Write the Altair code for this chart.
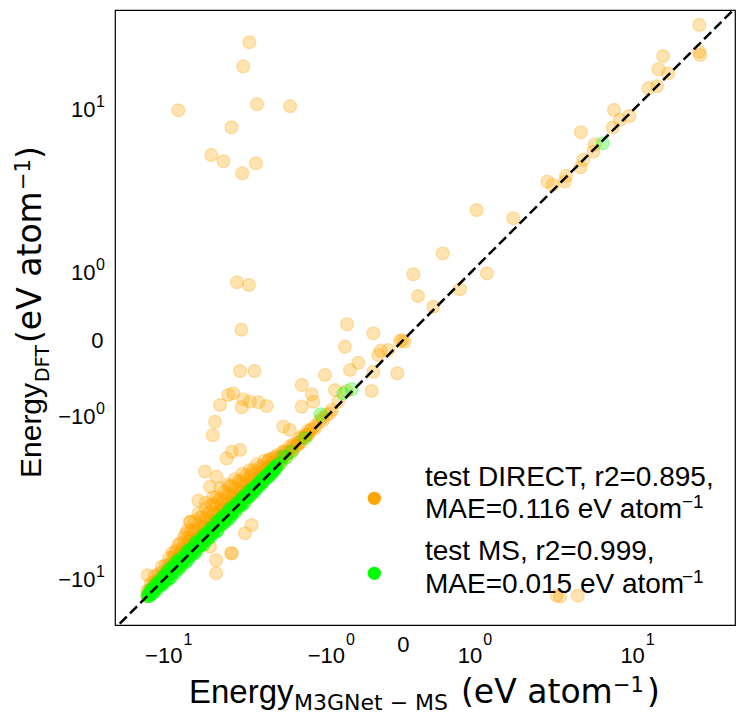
import altair as alt
import pandas as pd

# ---------------- data ----------------
# test DIRECT: isolated points (predicted, DFT) in eV/atom
direct_a_pred = [-3.64, -3.95, -8.89, -3.28, -2.03, -4.61, -5.95, -5.11, -4.00, -3.33,
                 -4.29, -3.66, -4.05, -0.706, 0.096, 0.145, -0.322]
direct_a_dft = [20.7, 15.7, 9.41, 10.1, 9.86, 7.67, 5.45, 5.03, 4.31, 4.90,
                0.73, 0.685, 0.099, 0.155, 0.873, 0.513, 0.063]

direct_b_pred = [-0.741, -0.03, 0.01, -0.01, -0.232, -0.148, -0.261, -0.528, -0.657, -0.322,
                 -0.056, -4.12, -3.40, -1.124, -1.69, -0.343, -0.922, -0.711, -1.431, -4.50,
                 -4.80, -3.95, -3.61, -3.22, -2.87, -5.33, -4.03, -1.69, -1.39, -5.68,
                 -5.84, -2.25, -2.04, -4.12, -4.59, -4.90, -6.43, -5.56, -6.04, -6.98,
                 -7.73, -7.70, -3.53, -3.86, -4.59, -4.62, -5.60, -5.60, -12.75, -6.04]
direct_b_dft = [-0.063, -0.01, -0.015, 0.0, -0.103, -0.096, -0.148, -0.234, -0.322, -0.344,
                -0.364, -0.335, -0.335, -0.387, -0.528, -0.62, -0.604, -0.62, -0.673, -0.657,
                -0.685, -0.758, -0.80, -0.81, -0.878, -0.86, -0.90, -0.89, -0.80, -1.20,
                -1.52, -1.31, -1.39, -1.93, -1.99, -2.20, -2.67, -2.87, -3.30, -3.98,
                -5.22, -5.25, -5.45, -6.04, -7.73, -7.70, -8.38, -9.81, -10.02, -7.12]

direct_c_pred = [20.3, 20.3, 20.5, 13.4, 12.7, 14.2, 12.5, 11.3, 7.48, 9.0,
                 8.05, 7.37, 4.96, 5.92, 5.80, 5.11, 4.94, 4.09, 4.03, 3.18,
                 3.42, 1.02, 1.93, 0.447, 1.24, 0.713, 0.322,
                 3.61, 3.78, 4.76,
                 -1.80, -1.55, -1.36, -1.19, -0.98, -0.86]
direct_c_dft = [25.2, 18.6, 17.9, 17.7, 15.2, 14.5, 12.5, 12.2, 9.44, 8.79,
                8.38, 7.63, 7.21, 6.22, 5.68, 5.11, 4.66, 4.16, 3.86, 3.86,
                3.69, 2.61, 2.31, 1.31, 0.89, 0.615, 0.364,
                -12.75, -12.9, -12.75,
                -1.78, -1.50, -1.30, -1.12, -0.95, -0.80]

# test DIRECT: dense band along the diagonal
direct_band_pred = [
    -12.82, -12.82, -12.29, -12.29, -11.77, -11.77, -11.77, -11.28, -11.28,
    -10.80, -10.80, -10.80, -10.35, -10.35, -9.91, -9.91, -9.91, -9.49, -9.49, -9.49,
    -9.08, -9.08, -8.69, -8.69, -8.69, -8.32, -8.32, -8.32, -7.96, -7.96, -7.96,
    -7.62, -7.62, -7.62, -7.29, -7.29, -7.29, -6.97, -6.97, -6.97, -6.97,
    -6.66, -6.66, -6.66, -6.37, -6.37, -6.37, -6.37, -6.08, -6.08, -6.08,
    -5.81, -5.81, -5.81, -5.81, -5.55, -5.55, -5.55, -5.55, -5.30, -5.30, -5.30, -5.30,
    -5.06, -5.06, -5.06, -4.83, -4.83, -4.83, -4.83, -4.61, -4.61, -4.61,
    -4.40, -4.40, -4.40, -4.40, -4.19, -4.19, -4.19, -3.99, -3.99, -3.99,
    -3.81, -3.81, -3.81, -3.62, -3.62, -3.62, -3.45, -3.45, -3.45, -3.28, -3.28, -3.28,
    -3.12, -3.12, -2.97, -2.97, -2.97, -2.82, -2.82, -2.68, -2.68, -2.68,
    -2.54, -2.54, -2.40, -2.40, -2.28, -2.28, -2.16, -2.16, -2.04, -2.04,
    -1.93, -1.93, -1.82, -1.72, -1.72, -1.62, -1.52, -1.52, -1.43, -1.34,
    -1.25, -1.17, -1.09, -1.02]
direct_band_dft = [
    -12.82, -12.03, -12.03, -11.04, -11.77, -10.80, -10.13, -10.80, -9.91,
    -10.57, -9.70, -9.08, -9.70, -8.89, -9.91, -8.89, -8.14, -9.08, -8.14, -7.62,
    -8.32, -7.45, -8.50, -7.62, -6.81, -7.79, -6.97, -6.37, -7.13, -6.37, -5.81,
    -7.29, -6.51, -5.81, -6.66, -5.95, -5.18, -6.81, -6.08, -5.43, -4.72,
    -6.22, -5.55, -4.94, -5.68, -5.06, -4.40, -4.09, -5.81, -5.18, -4.61,
    -5.30, -4.72, -4.19, -3.81, -5.43, -4.83, -4.29, -3.81, -4.94, -4.40, -3.90, -3.37,
    -4.50, -3.99, -3.54, -4.61, -4.09, -3.62, -3.20, -4.19, -3.71, -3.28,
    -4.29, -3.81, -3.37, -2.97, -3.90, -3.45, -3.05, -3.54, -3.12, -2.75,
    -3.62, -3.20, -2.82, -3.28, -2.89, -2.61, -3.37, -2.97, -2.61, -3.05, -2.68, -2.40,
    -2.75, -2.47, -2.82, -2.54, -2.28, -2.54, -2.28, -2.61, -2.34, -2.22,
    -2.34, -2.16, -2.40, -2.16, -2.16, -1.98, -2.16, -1.98, -1.98, -1.82,
    -1.93, -1.77, -1.72, -1.72, -1.57, -1.57, -1.52, -1.40, -1.38, -1.34,
    -1.19, -1.17, -1.05, -1.02]

direct_core_pred = [
    -12.55, -12.03, -11.52, -11.04, -10.57, -10.13, -9.70, -9.28, -8.89, -8.50,
    -8.14, -7.79, -7.45, -7.13, -6.81, -6.51, -6.22, -5.95, -5.68, -5.43,
    -5.18, -4.94, -4.72, -4.50, -4.29, -4.09, -3.90, -3.71, -3.54, -3.37,
    -3.20, -3.05, -2.89, -2.75, -2.61, -2.47, -2.34, -2.22, -2.10, -1.98,
    -1.87, -1.77, -1.66, -1.57, -1.47]
direct_core_dft = [
    -12.03, -11.28, -11.04, -10.13, -10.13, -9.08, -9.08, -8.14, -8.32, -7.29,
    -7.45, -6.51, -6.66, -5.81, -6.22, -5.55, -5.81, -5.18, -5.30, -4.61,
    -4.72, -4.29, -4.40, -3.81, -3.90, -3.54, -3.62, -3.20, -3.28, -2.97,
    -3.05, -2.75, -2.75, -2.54, -2.47, -2.34, -2.28, -2.10, -2.04, -1.87,
    -1.82, -1.72, -1.57, -1.52, -1.43]

direct_mid_pred = [
    -9.28, -8.89, -8.50, -8.14, -7.79, -7.45, -7.13, -6.81, -6.51, -6.22,
    -5.95, -5.68, -5.43, -5.18, -4.94, -4.72, -4.50, -4.29, -4.09, -3.90,
    -3.71, -3.54, -3.37, -3.20, -3.05, -2.89, -2.75, -2.61, -2.47, -2.34, -2.22]
direct_mid_dft = [
    -7.79, -6.97, -7.62, -6.08, -6.66, -5.81, -6.51, -4.94, -5.68, -4.83,
    -4.19, -4.72, -3.99, -4.50, -3.81, -3.28, -3.62, -3.81, -3.05, -3.20,
    -3.37, -2.75, -2.82, -2.97, -2.54, -2.54, -2.22, -2.34, -2.10, -2.16, -1.98]

# test MS
ms_pred = [
    -12.82, -12.55, -12.29, -12.03, -11.77, -11.52, -11.28, -11.04, -10.80, -10.57,
    -10.35, -10.13, -9.91, -9.70, -9.49, -9.28, -9.08, -8.89, -8.69, -8.50,
    -8.32, -8.14, -7.96, -7.79, -7.62, -7.45, -7.29, -7.13, -6.97, -6.81,
    -6.66, -6.51, -6.37, -6.22, -6.08, -5.95, -5.81, -5.68, -5.55, -5.43,
    -5.30, -5.18, -5.06, -4.94, -4.83, -4.72, -4.61, -4.50, -4.40, -4.29,
    -4.19, -4.09, -3.99, -3.90, -3.81, -3.71, -3.62, -3.54, -3.45, -3.37,
    -3.28, -3.20, -3.12, -3.05, -2.97, -2.89, -2.82, -2.75, -2.68, -2.61,
    -2.54, -2.47, -2.34, -2.16, -2.25, -1.98, -1.60, -1.22, -0.77, -0.63, 6.52]
ms_dft = [
    -12.82, -12.80, -12.04, -12.39, -11.65, -11.75, -10.94, -11.15, -11.12, -10.36,
    -10.76, -9.62, -10.01, -10.28, -9.21, -9.47, -8.54, -9.33, -8.60, -8.76,
    -7.99, -8.63, -7.96, -7.40, -7.92, -7.30, -7.65, -6.70, -7.11, -7.01,
    -6.46, -6.90, -6.12, -6.28, -6.38, -5.65, -5.98, -5.62, -5.88, -5.27,
    -5.41, -4.87, -5.26, -4.94, -5.07, -4.53, -4.75, -4.41, -4.66, -4.08,
    -4.23, -4.25, -3.87, -4.10, -3.77, -3.78, -3.48, -3.65, -3.45, -3.50,
    -3.35, -3.14, -3.21, -3.02, -3.03, -2.83, -2.85, -2.83, -2.65, -2.66,
    -2.54, -2.42, -2.36, -2.18, -2.14, -1.99, -1.60, -1.04, -0.66, -0.59, 6.30]

ms_b_pred = [
    -12.68, -12.42, -12.16, -11.90, -11.64, -11.40, -11.16, -10.92, -10.68, -10.46,
    -10.24, -10.02, -9.80, -9.60, -9.38, -9.18, -8.98, -8.79, -8.60, -8.41,
    -8.23, -8.05, -7.88, -7.70, -7.53, -7.37, -7.21, -7.05, -6.89, -6.73,
    -6.58, -6.44, -6.29, -6.15, -6.01, -5.88, -5.74, -5.61, -5.49, -5.36,
    -5.24, -5.12, -5.00, -4.88, -4.77, -4.66, -4.55, -4.45, -4.34, -4.24,
    -4.14, -4.04, -3.94, -3.85, -3.76, -3.66, -3.58, -3.49, -3.41, -3.32,
    -3.24, -3.16, -3.08, -3.01, -2.93, -2.85, -2.78, -2.71, -2.64, -2.57, -2.50]
ms_b_dft = [
    -12.55, -12.79, -11.80, -12.14, -12.11, -11.17, -11.27, -10.48, -11.21, -10.15,
    -10.55, -9.52, -10.39, -9.41, -9.76, -8.63, -9.16, -9.23, -8.26, -8.49,
    -7.98, -8.53, -7.49, -7.93, -7.45, -7.74, -6.78, -7.33, -7.03, -6.46,
    -6.97, -6.31, -5.98, -6.33, -6.31, -5.70, -5.80, -5.95, -5.16, -5.47,
    -5.45, -4.92, -5.25, -4.83, -4.53, -4.94, -4.41, -4.54, -4.51, -4.16,
    -4.26, -3.88, -4.14, -3.77, -3.80, -3.81, -3.47, -3.56, -3.51, -3.25,
    -3.30, -3.13, -3.17, -2.95, -2.96, -2.91, -2.72, -2.74, -2.72, -2.54, -2.55]
ms_c_dft = [
    -12.81, -12.05, -12.52, -11.66, -11.17, -11.63, -11.05, -11.36, -10.15, -10.77,
    -9.93, -10.52, -9.21, -9.79, -9.00, -9.73, -8.80, -8.35, -8.94, -8.33,
    -8.48, -7.57, -8.27, -7.47, -7.61, -7.00, -7.64, -6.77, -6.75, -7.00,
    -6.19, -6.57, -6.60, -5.97, -5.71, -6.06, -5.68, -5.27, -5.82, -5.25,
    -5.03, -5.32, -4.75, -4.93, -5.01, -4.38, -4.69, -4.36, -4.17, -4.32,
    -4.02, -4.20, -3.74, -3.93, -3.72, -3.51, -3.69, -3.42, -3.31, -3.39,
    -3.18, -3.19, -2.99, -3.07, -2.90, -2.79, -2.84, -2.68, -2.56, -2.60, -2.45]

diag = [-25, 35]

x_neg_ticks, x_neg_base, x_neg_sup = [-10, -1], ["\u221210", "\u221210"], ["1", "0"]
x_pos_ticks, x_pos_base, x_pos_sup = [1, 10], ["10", "10"], ["0", "1"]
zero_tick, zero_label = [0], ["0"]
tick_values = [-10, -1, 0, 1, 10]

legend_lines = ["test DIRECT, r2=0.895,", "MAE=0.116 eV atom",
                "test MS, r2=0.999,", "MAE=0.015 eV atom"]

ORANGE = "#FFA500"
LIME = "#00FF00"
W, H = 620, 615

xs = alt.Scale(type="symlog", constant=0.83, domain=[-18.6, 30.4], nice=False)
ys = alt.Scale(type="symlog", constant=0.83, domain=[-17.9, 29.8], nice=False)

xaxis = alt.Axis(values=tick_values, labels=False, title=None, ticks=True, tickSize=5,
                 tickWidth=1.1, tickColor="black", domain=False, grid=False)
yaxis = alt.Axis(values=tick_values, labels=False, title=None, ticks=True, tickSize=5,
                 tickWidth=1.1, tickColor="black", domain=False, grid=False)


def scatter(px, py, color):
    df = pd.DataFrame({"p": px, "d": py})
    return alt.Chart(df).mark_circle(
        size=165, color=color, opacity=1, fillOpacity=0.3,
        stroke=color, strokeOpacity=0.3, strokeWidth=1.3
    ).encode(x=alt.X("p:Q", scale=xs, axis=xaxis), y=alt.Y("d:Q", scale=ys, axis=yaxis))


def txt(s, x, y, size, font="Liberation Sans", align="left", angle=0):
    return alt.Chart(alt.Data(values=[{}])).mark_text(
        text=s, align=align, baseline="alphabetic", fontSize=size, font=font,
        angle=angle, color="black"
    ).encode(x=alt.value(x), y=alt.value(y))


layers = [
    scatter(direct_a_pred, direct_a_dft, ORANGE),
    scatter(direct_b_pred, direct_b_dft, ORANGE),
    scatter(direct_c_pred, direct_c_dft, ORANGE),
    scatter(direct_band_pred, direct_band_dft, ORANGE),
    scatter(direct_core_pred, direct_core_dft, ORANGE),
    scatter(direct_mid_pred, direct_mid_dft, ORANGE),
    scatter(ms_pred, ms_dft, LIME),
    scatter(ms_b_pred, ms_b_dft, LIME),
    scatter(ms_b_pred, ms_c_dft, LIME),
]

line = alt.Chart(pd.DataFrame({"p": diag, "d": diag})).mark_line(
    color="black", strokeDash=[10, 4.5], strokeWidth=2.5, clip=True
).encode(x=alt.X("p:Q", scale=xs, axis=None), y=alt.Y("d:Q", scale=ys, axis=None))
layers.append(line)


def xlab(ticks, texts, align, dx, y, size):
    df = pd.DataFrame({"t": ticks, "s": texts})
    return alt.Chart(df).mark_text(align=align, dx=dx, baseline="alphabetic", fontSize=size,
                                   font="Liberation Sans", color="black").encode(
        x=alt.X("t:Q", scale=xs, axis=None), y=alt.value(y), text="s:N")


def ylab(ticks, texts, x, dy, size, align):
    df = pd.DataFrame({"t": ticks, "s": texts})
    return alt.Chart(df).mark_text(align=align, dy=dy, baseline="alphabetic", fontSize=size,
                                   font="Liberation Sans", color="black").encode(
        y=alt.Y("t:Q", scale=ys, axis=None), x=alt.value(x), text="s:N")


layers += [
    xlab(x_neg_ticks, x_neg_base, "right", 14, H + 38.3, 22),
    xlab(x_neg_ticks, x_neg_sup, "left", 15, H + 20, 16),
    xlab(x_pos_ticks, x_pos_base, "right", 6.7, H + 38.3, 22),
    xlab(x_pos_ticks, x_pos_sup, "left", 7.7, H + 20, 16),
    xlab(zero_tick, zero_label, "center", 0, H + 26.7, 22),
    ylab(x_neg_ticks, x_neg_base, -19.5, 12, 22, "right"),
    ylab(x_neg_ticks, x_neg_sup, -19, 2, 16, "left"),
    ylab(x_pos_ticks, x_pos_base, -19.5, 12, 22, "right"),
    ylab(x_pos_ticks, x_pos_sup, -19, 2, 16, "left"),
    ylab(zero_tick, zero_label, -11.5, 8, 22, "right"),
]

# axis titles
layers += [
    txt("Energy", 74, 692.7, 33),
    txt("M3GNet \u2212 MS", 179, 700, 22, font="DejaVu Sans"),
    txt("(eV atom", 346, 692.7, 33, font="DejaVu Sans"),
    txt("\u22121", 498, 682, 21, font="DejaVu Sans"),
    txt(")", 532, 692.7, 33, font="DejaVu Sans"),
    txt("Energy", -74, 468, 30, angle=270),
    txt("DFT", -66.5, 372, 19, font="DejaVu Sans", angle=270),
    txt("(eV atom", -74, 333, 33, font="DejaVu Sans", angle=270),
    txt("\u22121", -84.7, 180, 21, font="DejaVu Sans", angle=270),
    txt(")", -74, 149, 33, font="DejaVu Sans", angle=270),
]

# legend
layers += [
    alt.Chart(alt.Data(values=[{}])).mark_circle(size=175, color=ORANGE, opacity=1).encode(
        x=alt.value(259.3), y=alt.value(488.3)),
    alt.Chart(alt.Data(values=[{}])).mark_circle(size=175, color=LIME, opacity=1).encode(
        x=alt.value(259.3), y=alt.value(563.3)),
    txt(legend_lines[0], 310, 476, 28),
    txt(legend_lines[1], 310, 508.3, 28),
    txt("\u22121", 567, 497.8, 19),
    txt(legend_lines[2], 310, 550, 28),
    txt(legend_lines[3], 310, 583.3, 28),
    txt("\u22121", 567, 572.8, 19),
]

chart = alt.layer(*layers).properties(
    width=W, height=H,
    padding={"left": 107, "top": 2, "right": 2, "bottom": 92},
    autosize=alt.AutoSizeParams(type="none"),
).configure_view(stroke="black", strokeWidth=1.2)

chart.save("out.html", embed_options={"renderer": "svg", "actions": False})
